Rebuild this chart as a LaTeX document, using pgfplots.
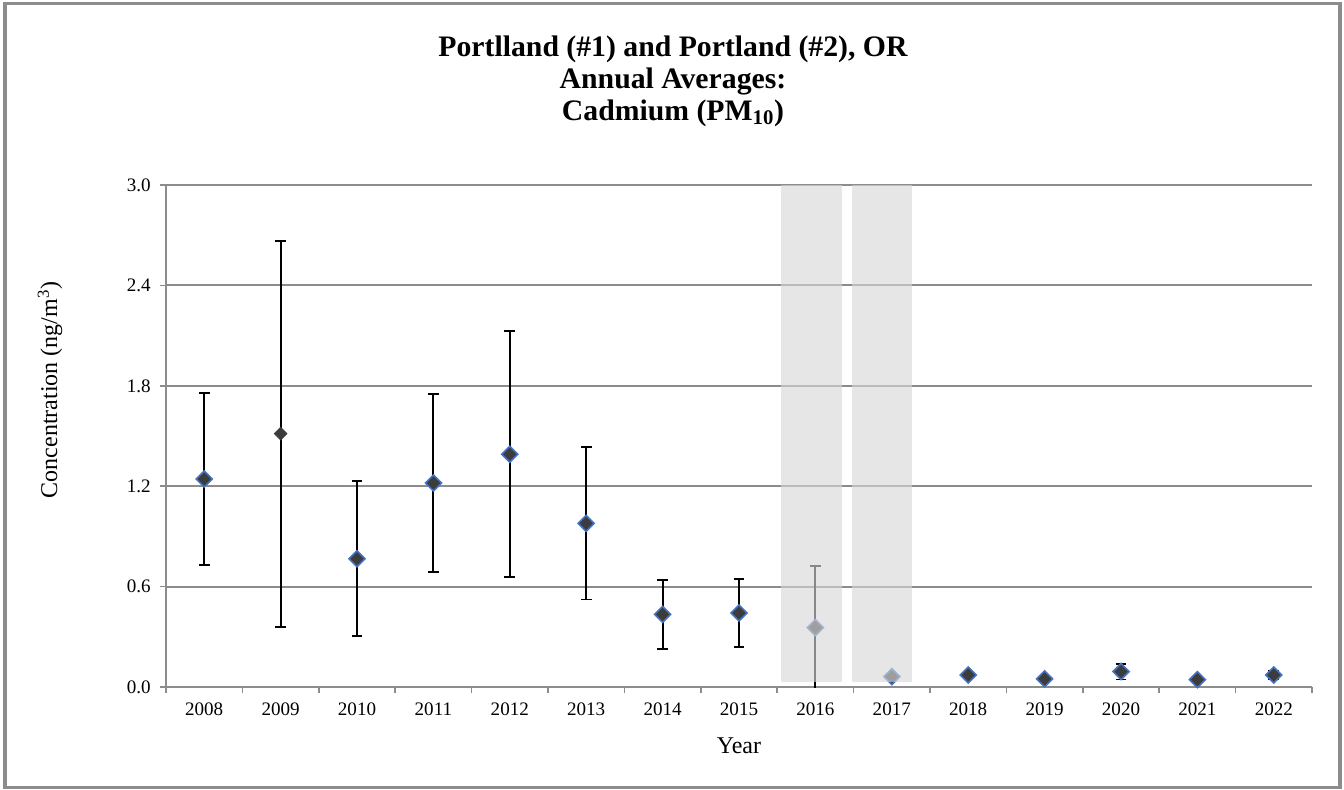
\documentclass[border=0pt]{standalone}
\usepackage{pgfplots}
\pgfplotsset{compat=1.18}
\usepackage{pgfplotstable}
\usepackage{fontspec}
\setmainfont{Liberation Serif}
\definecolor{axisgray}{HTML}{8C8C8C}
\definecolor{mkfill}{HTML}{3C3C3C}
\definecolor{mkedge}{HTML}{4472C4}
\definecolor{bandgray}{RGB}{216,216,216}

\pgfdeclareplotmark{rdiamond}{%
  \pgfpathmoveto{\pgfqpoint{0pt}{\pgfplotmarksize}}%
  \pgfpathlineto{\pgfqpoint{\pgfplotmarksize}{0pt}}%
  \pgfpathlineto{\pgfqpoint{0pt}{-\pgfplotmarksize}}%
  \pgfpathlineto{\pgfqpoint{-\pgfplotmarksize}{0pt}}%
  \pgfpathclose
  \pgfusepathqfillstroke}

\pgfplotstableread{
x y ep em
0 1.243 0.514 0.514
2 0.767 0.464 0.464
3 1.219 0.531 0.531
4 1.391 0.735 0.735
5 0.978 0.455 0.455
6 0.434 0.208 0.208
7 0.442 0.204 0.204
8 0.355 0.366 0.366
9 0.062 0.015 0.015
10 0.072 0.010 0.010
11 0.048 0.008 0.008
12 0.092 0.047 0.047
13 0.044 0.008 0.008
14 0.072 0.022 0.022
}\siteA

\pgfplotstableread{
x y ep em
1 1.514 1.153 1.153
}\siteB

\begin{document}
\begin{tikzpicture}
\useasboundingbox (0,0) rectangle (1008pt,591.75pt);
\draw[line width=2.4pt, axisgray] (3.75pt,1.3pt) rectangle (1005pt,589.1pt);

\node[anchor=base, font=\fontsize{22.3}{24}\selectfont\bfseries] at (504.75pt,549.0pt) {Portlland (\#1) and Portland (\#2), OR};
\node[anchor=base, font=\fontsize{22.3}{24}\selectfont\bfseries] at (504.75pt,525.2pt) {Annual Averages:};
\node[anchor=base, font=\fontsize{22.3}{24}\selectfont\bfseries] at (504.75pt,501.4pt) {Cadmium (PM\textsubscript{10})};

\begin{axis}[
  at={(124.5pt,76.5pt)}, anchor=south west,
  scale only axis, width=859.5pt, height=376.5pt,
  xmin=-0.5, xmax=14.5, ymin=0, ymax=3,
  axis x line*=bottom, axis y line*=left,
  axis line style={draw=axisgray, line width=1.5pt, -},
  xtick={0,...,14},
  xticklabels={2008,2009,2010,2011,2012,2013,2014,2015,2016,2017,2018,2019,2020,2021,2022},
  minor xtick={-0.5,0.5,...,14.5},
  ytick={0,0.6,1.2,1.8,2.4,3.0},
  tick align=outside,
  major tick length=4.5pt, minor tick length=4.5pt,
  major x tick style={draw=none},
  tick style={draw=axisgray, line width=1.2pt},
  ymajorgrids,
  grid style={draw=axisgray, line width=1.5pt},
  yticklabel style={/pgf/number format/fixed, /pgf/number format/fixed zerofill, /pgf/number format/precision=1},
  /pgf/number format/assume math mode=true,
  ticklabel style={font=\fontsize{14.3}{16}\selectfont},
  yticklabel style={xshift=-3.5pt},
  xticklabel style={yshift=-3.5pt},
  xlabel={Year},
  ylabel={Concentration (ng/m\textsuperscript{3})},
  label style={font=\fontsize{18}{20}\selectfont},
  xlabel style={at={(axis description cs:0.5,-0.1315)}, anchor=base},
  ylabel style={at={(axis description cs:-0.1012,0.5916)}, anchor=center},
  clip mode=individual,
]
\addplot[only marks, mark=rdiamond, mark size=6pt,
  mark options={fill=mkfill, draw=mkedge, line width=1.2pt},
  error bars/.cd, y dir=both, y explicit,
  error mark=|,
  error bar style={black, line width=1.4pt},
  error mark options={black, mark size=4pt, line width=1.4pt}]
  table[x=x, y=y, y error plus=ep, y error minus=em] {\siteA};
\addplot[only marks, mark=rdiamond, mark size=4.8pt,
  mark options={fill=mkfill, draw=mkfill, line width=0.5pt},
  error bars/.cd, y dir=both, y explicit,
  error mark=|,
  error bar style={black, line width=1.4pt},
  error mark options={black, mark size=4pt, line width=1.4pt}]
  table[x=x, y=y, y error plus=ep, y error minus=em] {\siteB};
\addplot[forget plot, draw=none, fill=bandgray, fill opacity=0.63]
  coordinates {(7.55,0.03) (8.35,0.03) (8.35,3.0) (7.55,3.0)} -- cycle;
\addplot[forget plot, draw=none, fill=bandgray, fill opacity=0.63]
  coordinates {(8.48,0.03) (9.26,0.03) (9.26,3.0) (8.48,3.0)} -- cycle;
\end{axis}
\end{tikzpicture}
\end{document}
